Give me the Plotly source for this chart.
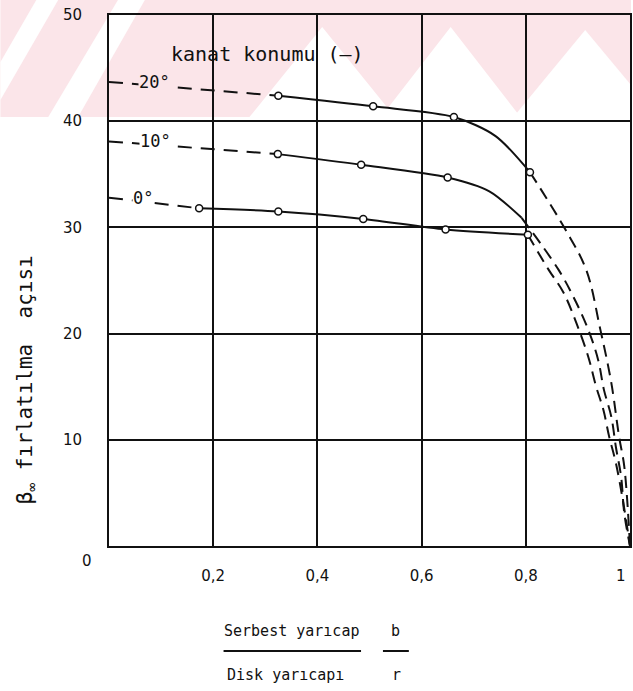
import plotly.graph_objects as go

# ---------------- data ----------------
# 20 degree blade position
x20 = [0.0, 0.325, 0.507, 0.662, 0.742, 0.808, 0.876, 0.916, 0.943, 0.964, 0.979, 0.989, 1.0]
y20 = [43.7, 42.4, 41.4, 40.4, 38.6, 35.2, 29.8, 26.0, 20.4, 15.4, 10.3, 7.5, 0.0]
m20 = [1, 2, 3, 5]          # indices carrying circle markers
s20 = (1, 5)                # solid part between these indices

# 10 degree blade position
x10 = [0.0, 0.324, 0.484, 0.650, 0.730, 0.792, 0.863, 0.897, 0.922, 0.939, 0.950, 0.964, 0.973, 0.983, 0.989, 1.0]
y10 = [38.1, 36.9, 35.9, 34.7, 33.4, 30.9, 26.0, 22.9, 20.1, 17.5, 14.7, 12.2, 9.3, 6.5, 3.1, 0.0]
m10 = [1, 2, 3]
s10 = (1, 5)

# 0 degree blade position
x0 = [0.0, 0.173, 0.325, 0.488, 0.646, 0.804, 0.844, 0.872, 0.897, 0.920, 0.935, 0.949, 0.960, 0.973, 0.987, 1.0]
y0 = [32.8, 31.8, 31.5, 30.8, 29.8, 29.3, 26.0, 23.9, 21.0, 17.8, 15.0, 12.8, 10.3, 7.8, 4.1, 0.0]
m0 = [1, 2, 3, 4, 5]
s0 = (1, 5)

series_labels = ["20°", "10°", "0°"]
label_x = [0.088, 0.090, 0.066]

x_tickvals = [0.2, 0.4, 0.6, 0.8]
x_ticktext = ["0,2", "0,4", "0,6", "0,8"]
y_tickvals = [10, 20, 30, 40, 50]
y_ticktext = ["10", "20", "30", "40", "50"]

# ---------------- layout geometry ----------------
W, H = 633, 691
L, R, T, B = 109, 1, 15, 145
PW, PH = W - L - R, H - T - B


def px(xp):
    return (xp - L) / PW


def py(yp):
    return (H - B - yp) / PH


INK = "#111111"
PINK = "#fbe5e9"
fig = go.Figure()

dash_long = "12px,7px"
dash_left = "14px,9px"
for xs, ys, ms, (a, b) in [(x20, y20, m20, s20), (x10, y10, m10, s10), (x0, y0, m0, s0)]:
    fig.add_trace(go.Scatter(x=xs[:a + 1], y=ys[:a + 1], mode="lines",
                             line=dict(color=INK, width=2, dash=dash_left),
                             showlegend=False, hoverinfo="skip"))
    fig.add_trace(go.Scatter(x=xs[a:b + 1], y=ys[a:b + 1], mode="lines",
                             line=dict(color=INK, width=2, shape="spline", smoothing=0.8),
                             showlegend=False, hoverinfo="skip"))
    fig.add_trace(go.Scatter(x=xs[b:], y=ys[b:], mode="lines",
                             line=dict(color=INK, width=2, dash=dash_long, shape="spline", smoothing=1.0),
                             showlegend=False, hoverinfo="skip"))
    fig.add_trace(go.Scatter(x=[xs[i] for i in ms], y=[ys[i] for i in ms], mode="markers",
                             marker=dict(symbol="circle", size=7, color="white",
                                         line=dict(color=INK, width=1.5)),
                             showlegend=False, hoverinfo="skip"))

for lab, lx, ys in zip(series_labels, label_x, [y20, y10, y0]):
    bg = PINK if ys[0] > 40 else "white"
    fig.add_annotation(x=lx, y=ys[0], text=lab, showarrow=False, xref="x", yref="y",
                       xanchor="center", yanchor="middle",
                       font=dict(family="DejaVu Sans Mono", size=17, color=INK),
                       bgcolor=bg, borderpad=0)

fig.add_annotation(x=0.115, y=46.3, text="kanat konumu (—)", showarrow=False,
                   xanchor="left", yanchor="middle",
                   font=dict(family="DejaVu Sans Mono", size=20, color=INK))

# background watermark band (pink with white chevrons)
band_bottom = 117
shapes = [dict(type="rect", xref="paper", yref="paper", layer="below",
               x0=px(0), x1=px(W), y0=py(band_bottom), y1=py(0),
               fillcolor=PINK, line=dict(width=0))]


def poly(points):
    d = "M " + " L ".join(f"{px(a):.4f},{py(b):.4f}" for a, b in points) + " Z"
    return dict(type="path", xref="paper", yref="paper", layer="below", path=d,
                fillcolor="white", line=dict(width=0))


shapes += [
    poly([(0, 100), (0, 62), (36, 0), (58, 0)]),
    poly([(48, band_bottom), (78, band_bottom), (145, 0), (118, 0)]),
    poly([(323, 27), (250, band_bottom), (396, band_bottom)]),
    poly([(452, 27), (382, band_bottom), (522, band_bottom)]),
    poly([(587, 30), (515, band_bottom), (633, band_bottom), (633, 85)]),
]

shapes += [
    dict(type="line", xref="paper", yref="paper", x0=px(224), x1=px(362), y0=py(651), y1=py(651),
         line=dict(color=INK, width=2)),
    dict(type="line", xref="paper", yref="paper", x0=px(384), x1=px(410), y0=py(651), y1=py(651),
         line=dict(color=INK, width=2)),
]
fig.update_layout(shapes=shapes)


def paper_text(xp, yp, text, font, angle=0):
    fig.add_annotation(x=px(xp), y=py(yp), xref="paper", yref="paper", text=text,
                       showarrow=False, xanchor="center", yanchor="middle",
                       textangle=angle, font=font)


mono = dict(family="DejaVu Sans Mono", size=15, color=INK)
paper_text(292, 631, "Serbest yarıcap", mono)
paper_text(397, 631, "b", mono)
paper_text(286, 675, "Disk yarıcapı", mono)
paper_text(398, 675, "r", mono)

paper_text(26, 380, "β<sub>∞</sub> fırlatılma  açısı",
           dict(family="DejaVu Sans Mono", size=21, color=INK), angle=-90)

tick_font = dict(family="DejaVu Sans", size=15, color=INK)
paper_text(87, 561, "0", tick_font)
paper_text(623, 576, "1", tick_font)

fig.update_xaxes(range=[0, 1], tickvals=x_tickvals, ticktext=x_ticktext,
                 showgrid=True, gridcolor=INK, gridwidth=2,
                 showline=True, linecolor=INK, linewidth=2, mirror=True,
                 ticks="", tickfont=tick_font, ticklabelstandoff=15, zeroline=False)
fig.update_yaxes(range=[0, 50], tickvals=y_tickvals, ticktext=y_ticktext,
                 showgrid=True, gridcolor=INK, gridwidth=2,
                 showline=True, linecolor=INK, linewidth=2, mirror=True,
                 ticks="", tickfont=tick_font, ticklabelstandoff=22, zeroline=False)

fig.update_layout(width=W, height=H, margin=dict(l=L, r=R, t=T, b=B, pad=0),
                  paper_bgcolor="white", plot_bgcolor="rgba(0,0,0,0)",
                  showlegend=False)

fig.write_html("out.html")
